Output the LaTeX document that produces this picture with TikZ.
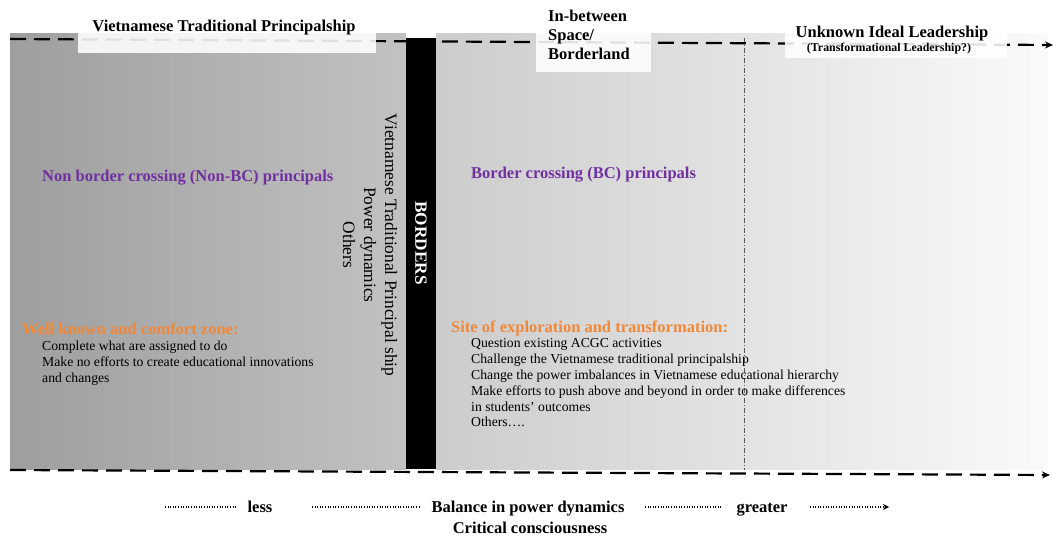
\documentclass[tikz,border=0pt]{standalone}
\usepackage{fontspec}
\setmainfont{Liberation Serif}
\usetikzlibrary{arrows.meta}

\definecolor{bcpurple}{HTML}{7030A0}
\definecolor{zoneorange}{HTML}{F0883A}

\tikzset{
  axisline/.style={line width=2.2pt, dash pattern=on 16pt off 8pt, -{Stealth[length=8pt,width=7pt]}},
  tagbox/.style={fill=white, fill opacity=0.88, inner sep=0pt},
  headtext/.style={font=\bfseries\fontsize{16.5}{19}\selectfont, inner sep=0pt},
  grouptitle/.style={headtext, text=bcpurple, anchor=base west},
  zonetitle/.style={headtext, text=zoneorange, anchor=base west},
  itemtext/.style={font=\fontsize{13.7}{15.8}\selectfont, inner sep=0pt, anchor=base west},
  scaletext/.style={headtext},
  dotline/.style={line width=1.6pt, dash pattern=on 1pt off 1.6pt},
  divider/.style={gray!70!black, line width=0.8pt, dash pattern=on 5pt off 2pt on 1pt off 2pt}
}

\begin{document}
\begin{tikzpicture}[x=1pt,y=-1pt]
\useasboundingbox (0,0) rectangle (1053,537);

% shaded zones and the border bar
\shade[left color=black!38, right color=black!24] (10,34) rectangle (406,469);
\shade[left color=black!20, right color=black!2] (436,34) rectangle (1048,469);
\fill[black] (406,38) rectangle (436,469);

% boundary between borderland and the unknown ideal leadership
\coordinate (divtop) at (744,38);
\coordinate (divbot) at (744,470);
\draw[divider] (divtop) -- (divbot);

% top and bottom axes
\coordinate (topL) at (10,39);
\coordinate (topR) at (1053,45);
\coordinate (botL) at (10,470);
\coordinate (botR) at (1050,475);
\draw[axisline] (topL) -- (topR);
\draw[axisline] (botL) -- (botR);

% label boxes over the top axis
\node[tagbox, minimum width=298, minimum height=48, anchor=north west] (vtpbox) at (78,5) {};
\node[headtext, anchor=center] (vtp) at (224,28) {Vietnamese Traditional Principalship};

\node[tagbox, minimum width=115, minimum height=72, anchor=north west] (midbox) at (536,0) {};
\node[headtext, anchor=base west] (mid1) at (548,22) {In-between};
\node[headtext, anchor=base west] (mid2) at (548,41) {Space/};
\node[headtext, anchor=base west] (mid3) at (548,60) {Borderland};

\node[tagbox, minimum width=222, minimum height=58, anchor=north west] (idealbox) at (785,0) {};
\node[headtext, anchor=base] (ideal) at (892,38) {Unknown Ideal Leadership};
\node[font=\bfseries\fontsize{11.9}{14}\selectfont, inner sep=0pt, anchor=base] (transf) at (889,52) {(Transformational Leadership?)};

% the border bar
\node[rotate=-90, text=white, font=\bfseries\fontsize{17.2}{20}\selectfont, inner sep=0pt] (borders) at (421,243) {BORDERS};
\node[rotate=-90, align=center, font=\fontsize{17.4}{21}\selectfont, inner sep=0pt] (borderlist) at (370,245)
  {Vietnamese Traditional Principal ship\\Power dynamics\\Others};

% non border crossing side
\node[grouptitle] (nonbc) at (42,182) {Non border crossing (Non-BC) principals};
\node[zonetitle] (comfort) at (22,335) {Well known and comfort zone:};
\node[itemtext] (nb1) at (42,351) {Complete what are assigned to do};
\node[itemtext] (nb2) at (42,367) {Make no efforts to create educational innovations};
\node[itemtext] (nb3) at (42,383) {and changes};

% border crossing side
\node[grouptitle] (bc) at (471,179) {Border crossing (BC) principals};
\node[zonetitle] (explore) at (451,333) {Site of exploration and transformation:};
\foreach \t [count=\i] in {Question existing ACGC activities,
    Challenge the Vietnamese traditional principalship,
    Change the power imbalances in Vietnamese educational hierarchy,
    Make efforts to push above and beyond in order to make differences,
    in students’ outcomes,
    Others….}
  \node[itemtext] (bcitem\i) at (471,{348+(\i-1)*15.8}) {\t};

% scale of power balance and critical consciousness
\node[scaletext, anchor=base] (less) at (260,512) {less};
\node[scaletext, anchor=base] (balance) at (528,512) {Balance in power dynamics};
\node[scaletext, anchor=base] (greater) at (762,512) {greater};
\node[scaletext, anchor=base] (critical) at (530,533) {Critical consciousness};
\coordinate (s0) at (165,507);
\coordinate (s1) at (237,507);
\coordinate (s2) at (312,507);
\coordinate (s3) at (420,507);
\coordinate (s4) at (645,507);
\coordinate (s5) at (723,507);
\coordinate (s6) at (810,507);
\coordinate (s7) at (889,507);
\draw[dotline] (s0) -- (s1);
\draw[dotline] (s2) -- (s3);
\draw[dotline] (s4) -- (s5);
\draw[dotline, -{Stealth[length=6pt,width=6pt]}] (s6) -- (s7);
\end{tikzpicture}
\end{document}
